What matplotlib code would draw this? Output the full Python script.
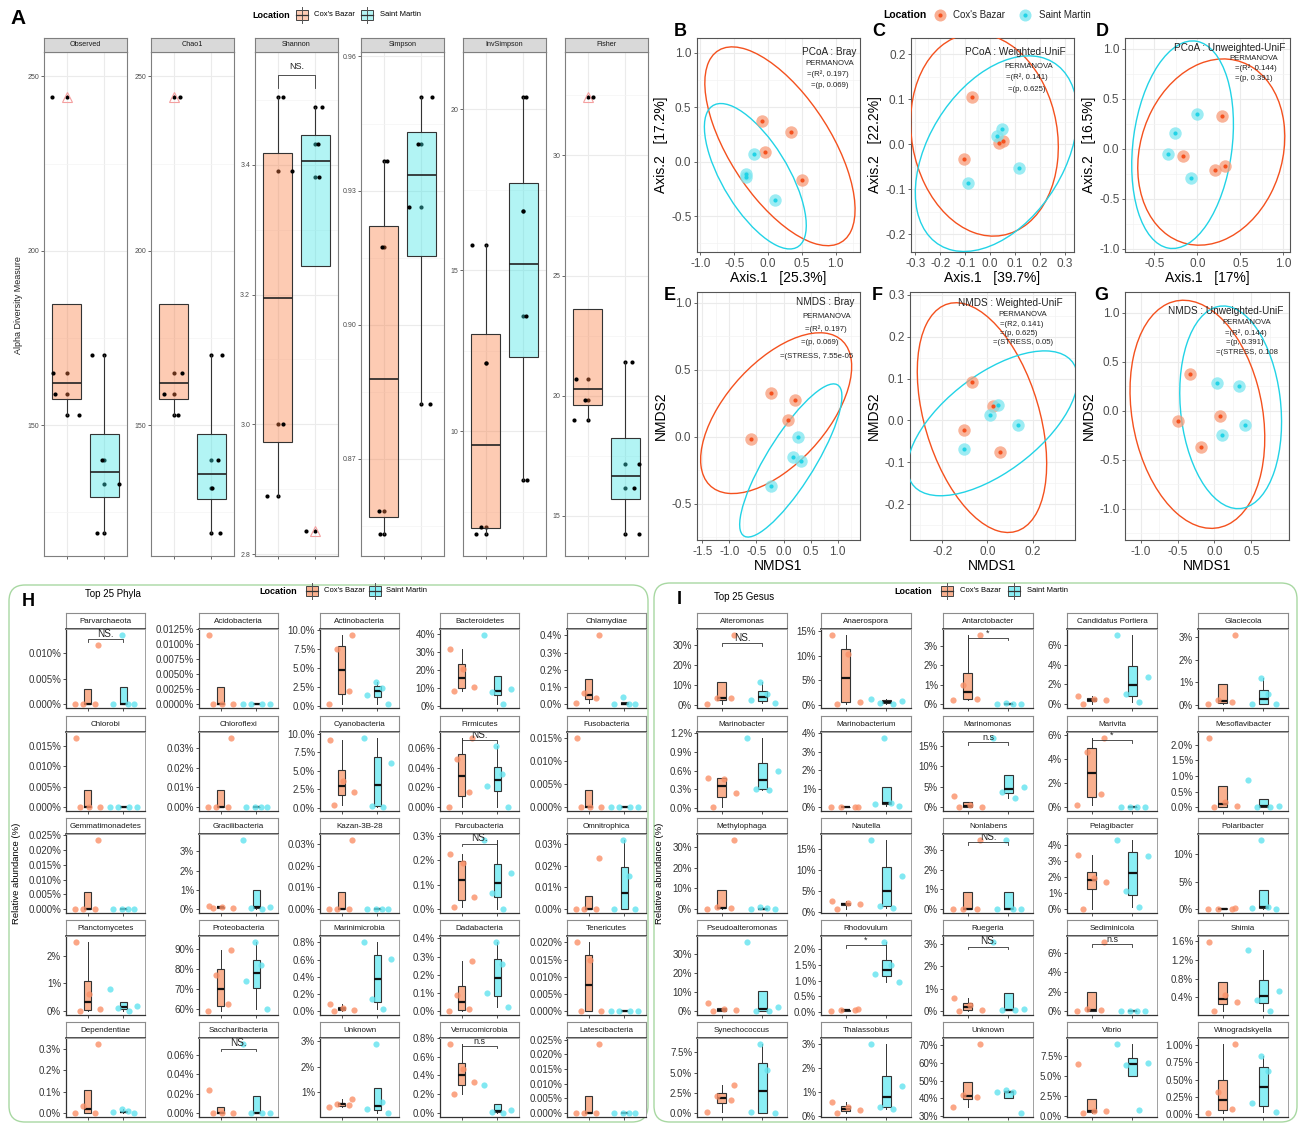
import numpy as np
import matplotlib
matplotlib.use("Agg")
import matplotlib.pyplot as plt
from matplotlib.patches import Ellipse, FancyBboxPatch, Rectangle
from matplotlib.ticker import AutoMinorLocator

plt.rcParams['font.family'] = ['Liberation Sans', 'DejaVu Sans']
plt.rcParams['axes.unicode_minus'] = False

W, H = 1302, 1124
NARROW = ['Liberation Sans Narrow', 'Liberation Sans', 'DejaVu Sans']

# ---------------- data: panel A (alpha diversity) ----------------
groups = ["Cox's Bazar", "Saint Martin"]
alpha_metrics = ["Observed", "Chao1", "Shannon", "Simpson", "InvSimpson", "Fisher"]
alpha_cox = [[153, 159, 165, 244],
             [153, 159, 165, 244],
             [2.89, 3.00, 3.39, 3.504],
             [0.8533, 0.8583, 0.9173, 0.9367],
             [6.82, 7.04, 12.11, 15.8],
             [18.98, 19.82, 20.69, 32.42]]
alpha_stm = [[119, 133, 140, 170],
             [119, 132, 140, 170],
             [2.835, 3.381, 3.432, 3.489],
             [0.8823, 0.9263, 0.9405, 0.9509],
             [8.5, 13.58, 16.83, 20.37],
             [14.25, 16.17, 17.15, 21.41]]
alpha_ticks = [["150", "200", "250"], ["150", "200", "250"],
               ["2.8", "3.0", "3.2", "3.4"], ["0.87", "0.90", "0.93", "0.96"],
               ["10", "15", "20"], ["15", "20", "25", "30"]]
alpha_ylim = [(112.5, 257), (112.5, 257), (2.797, 3.574),
              (0.8483, 0.961), (6.13, 21.78), (13.32, 34.31)]
shannon_sig = ("NS.", 3.538)

# jitter offsets of the second copy of each point (positions only)
alpha_jit_cox = [[0.33, -0.30, -0.36, -0.39], [0.11, -0.26, 0.22, 0.17],
                 [-0.28, 0.15, 0.39, 0.13], [-0.09, -0.13, -0.04, 0.10],
                 [-0.25, -0.13, 0.0, -0.37], [-0.37, -0.07, -0.30, 0.13]]
alpha_jit_stm = [[-0.19, 0.39, -0.06, -0.32], [0.24, 0.02, 0.17, 0.28],
                 [-0.25, 0.10, 0.06, 0.17], [0.22, -0.34, -0.08, 0.29],
                 [0.10, 0.06, 0.0, 0.06], [0.37, 0.24, 0.35, 0.18]]

# ---------------- data: panels B-G (ordinations) ----------------
ord_letters = ["B", "C", "D", "E", "F", "G"]
ord_titles = ["PCoA : Bray", "PCoA : Weighted-UniF", "PCoA : Unweighted-UniF",
              "NMDS : Bray", "NMDS : Weighted-UniF", "NMDS : Unweighted-UniF"]
ord_stats = [["PERMANOVA", "=(R², 0.197)", "=(p, 0.069)"],
             ["PERMANOVA", "=(R², 0.141)", "=(p, 0.625)"],
             ["PERMANOVA", "=(R², 0.144)", "=(p, 0.391)"],
             ["PERMANOVA", "=(R², 0.197)", "=(p, 0.069)", "=(STRESS, 7.55e-05"],
             ["PERMANOVA", "=(R2, 0.141)", "=(p, 0.625)", "=(STRESS, 0.05)"],
             ["PERMANOVA", "=(R², 0.144)", "=(p, 0.391)", "=(STRESS, 0.108"]]
ord_xlabel = ["Axis.1   [25.3%]", "Axis.1   [39.7%]", "Axis.1   [17%]", "NMDS1", "NMDS1", "NMDS1"]
ord_ylabel = ["Axis.2   [17.2%]", "Axis.2   [22.2%]", "Axis.2   [16.5%]", "NMDS2", "NMDS2", "NMDS2"]
ord_cox_x = [[-0.094, 0.3375, -0.044, 0.506], [-0.071, -0.107, 0.037, 0.050],
             [0.29, -0.167, 0.206, 0.32], [-0.234, 0.219, 0.078, -0.609],
             [-0.069, 0.024, -0.105, 0.054], [-0.333, 0.075, -0.489, -0.178]]
ord_cox_y = [[0.377, 0.273, 0.089, -0.172], [0.106, -0.032, 0.004, 0.007],
             [0.323, -0.07, -0.21, -0.177], [0.331, 0.274, 0.122, -0.02],
             [0.0916, 0.034, -0.023, -0.076], [0.374, -0.048, -0.102, -0.367]]
ord_stm_x = [[-0.2125, -0.319, -0.319, 0.10], [0.048, 0.026, 0.116, -0.090],
             [-0.005, -0.26, -0.34, -0.079], [0.273, 0.172, 0.32, -0.227],
             [0.047, 0.011, 0.136, -0.103], [0.034, 0.339, 0.408, 0.098]]
ord_stm_y = [[0.074, -0.113, -0.141, -0.356], [0.035, 0.019, -0.052, -0.085],
             [0.343, 0.16, -0.053, -0.29], [-0.005, -0.149, -0.182, -0.371],
             [0.037, 0.014, -0.010, -0.069], [0.286, 0.252, -0.15, -0.245]]
ord_xticks = [[-1.0, -0.5, 0.0, 0.5, 1.0], [-0.3, -0.2, -0.1, 0.0, 0.1, 0.2, 0.3],
              [-0.5, 0.0, 0.5, 1.0], [-1.5, -1.0, -0.5, 0.0, 0.5, 1.0],
              [-0.2, 0.0, 0.2], [-1.0, -0.5, 0.0, 0.5]]
ord_yticks = [[-0.5, 0.0, 0.5, 1.0], [-0.2, -0.1, 0.0, 0.1, 0.2],
              [-1.0, -0.5, 0.0, 0.5, 1.0], [-0.5, 0.0, 0.5, 1.0],
              [-0.2, -0.1, 0.0, 0.1, 0.2, 0.3], [-1.0, -0.5, 0.0, 0.5, 1.0]]
ord_xlim = [(-1.05, 1.36), (-0.318, 0.337), (-0.84, 1.077),
            (-1.6, 1.414), (-0.342, 0.387), (-1.213, 1.011)]
ord_ylim = [(-0.831, 1.138), (-0.239, 0.236), (-1.033, 1.107),
            (-0.771, 1.082), (-0.286, 0.307), (-1.32, 1.214)]

# ---------------- data: panel H (top 25 phyla, relative abundance %) ----------------
phyla = ["Parvarchaeota", "Acidobacteria", "Actinobacteria", "Bacteroidetes", "Chlamydiae",
         "Chlorobi", "Chloroflexi", "Cyanobacteria", "Firmicutes", "Fusobacteria",
         "Gemmatimonadetes", "Gracilibacteria", "Kazan-3B-28", "Parcubacteria", "Omnitrophica",
         "Planctomycetes", "Proteobacteria", "Marinimicrobia", "Dadabacteria", "Tenericutes",
         "Dependentiae", "Saccharibacteria", "Unknown", "Verrucomicrobia", "Latescibacteria"]
phyla_cox = [[0, 0, 0, 0.0117], [0, 0, 0, 0.01145], [0.26, 1.89, 7.41, 9.25],
             [8.4, 10.5, 20.6, 31.6], [0.006, 0.037, 0.065, 0.40],
             [0, 0, 0, 0.0169], [0, 0, 0, 0.0349], [0.32, 2.14, 3.65, 9.19],
             [0, 0.0153, 0.0486, 0.0698], [0, 0, 0, 0.015],
             [0, 0, 0, 0.0233], [0.06, 0.08, 0.12, 0.16], [0, 0, 0, 0.0317],
             [0.01, 0.048, 0.189, 0.227], [0, 0, 0, 0.0234],
             [0, 0.07, 0.61, 2.48], [58.8, 62.5, 76.8, 89.3], [0, 0.01, 0.031, 0.077],
             [0, 0.011, 0.089, 0.276], [0, 0, 0.015, 0.020],
             [0, 0, 0.034, 0.322], [0, 0, 0.0005, 0.0235], [0.40, 0.50, 0.55, 0.72],
             [0.198, 0.332, 0.47, 0.729], [0, 0, 0, 0.0234]]
phyla_stm = [[0, 0, 0, 0.0135], [0, 0, 0, 0], [0.22, 1.45, 2.35, 3.16],
             [0.9, 7.7, 9.3, 39.4], [0, 0, 0, 0.04],
             [0, 0, 0, 0], [0, 0, 0, 0], [0.1, 0.22, 5.99, 9.37],
             [0, 0.0217, 0.0336, 0.062], [0, 0, 0, 0],
             [0, 0, 0, 0], [0, 0.07, 0.13, 3.57], [0, 0, 0, 0],
             [0, 0.065, 0.15, 0.282], [0, 0, 0.0152, 0.0317],
             [0, 0.12, 0.18, 0.79], [60.0, 73.7, 81.8, 93.3], [0.023, 0.138, 0.604, 0.80],
             [0.024, 0.10, 0.259, 0.378], [0, 0, 0, 0],
             [0, 0.004, 0.009, 0.019], [0, 0, 0, 0.0705], [0.18, 0.33, 0.60, 2.88],
             [0, 0.01, 0.032, 0.30], [0, 0, 0, 0]]
phyla_ticks = [["0.000%", "0.005%", "0.010%"],
               ["0.0000%", "0.0025%", "0.0050%", "0.0075%", "0.0100%", "0.0125%"],
               ["0.0%", "2.5%", "5.0%", "7.5%", "10.0%"],
               ["0%", "10%", "20%", "30%", "40%"],
               ["0.0%", "0.1%", "0.2%", "0.3%", "0.4%"],
               ["0.000%", "0.005%", "0.010%", "0.015%"],
               ["0.00%", "0.01%", "0.02%", "0.03%"],
               ["0.0%", "2.5%", "5.0%", "7.5%", "10.0%"],
               ["0.00%", "0.02%", "0.04%", "0.06%"],
               ["0.000%", "0.005%", "0.010%", "0.015%"],
               ["0.000%", "0.005%", "0.010%", "0.015%", "0.020%", "0.025%"],
               ["0%", "1%", "2%", "3%"],
               ["0.00%", "0.01%", "0.02%", "0.03%"],
               ["0.0%", "0.1%", "0.2%", "0.3%"],
               ["0.00%", "0.01%", "0.02%", "0.03%"],
               ["0%", "1%", "2%"],
               ["60%", "70%", "80%", "90%"],
               ["0.0%", "0.2%", "0.4%", "0.6%", "0.8%"],
               ["0.0%", "0.1%", "0.2%", "0.3%", "0.4%"],
               ["0.000%", "0.005%", "0.010%", "0.015%", "0.020%"],
               ["0.0%", "0.1%", "0.2%", "0.3%"],
               ["0.00%", "0.02%", "0.04%", "0.06%"],
               ["1%", "2%", "3%"],
               ["0.0%", "0.2%", "0.4%", "0.6%", "0.8%"],
               ["0.000%", "0.005%", "0.010%", "0.015%", "0.020%", "0.025%"]]
phyla_sig = {"Parvarchaeota": ("NS.", 0.0127), "Firmicutes": ("NS.", 0.068),
             "Parcubacteria": ("NS.", 0.269), "Saccharibacteria": ("NS.", 0.066),
             "Verrucomicrobia": ("n.s", 0.711)}

# ---------------- data: panel I (top 25 genera, relative abundance %) ----------------
genera = ["Alteromonas", "Anaerospora", "Antarctobacter", "Candidatus Portiera", "Glaciecola",
          "Marinobacter", "Marinobacterium", "Marinomonas", "Marivita", "Mesoflavibacter",
          "Methylophaga", "Nautella", "Nonlabens", "Pelagibacter", "Polaribacter",
          "Pseudoalteromonas", "Rhodovulum", "Ruegeria", "Sediminicola", "Shimia",
          "Synechococcus", "Thalassobius", "Unknown", "Vibrio", "Winogradskyella"]
genera_cox = [[0.3, 3.2, 3.5, 35.0], [0.1, 0.6, 10.4, 14.2], [0.2, 0.27, 0.97, 3.54],
              [0, 0.38, 0.5, 0.86], [0.03, 0.1, 0.22, 3.09],
              [0.01, 0.23, 0.47, 0.48], [0, 0, 0, 0.03], [0, 0.1, 0.6, 2.8],
              [0.17, 1.08, 4.62, 5.75], [0, 0.02, 0.17, 2.21],
              [0, 0.5, 0.9, 33.2], [0.6, 1.8, 2.0, 2.6], [0, 0, 0, 3.49],
              [0.02, 1.7, 1.96, 3.4], [0, 0.05, 0.1, 0.2],
              [0, 0.3, 1.0, 4.3], [0.03, 0.05, 0.06, 0.10], [0, 0.06, 0.28, 0.59],
              [0, 0.07, 0.2, 7.1], [0.10, 0.30, 0.44, 1.58],
              [0.08, 1.65, 2.1, 3.46], [0.11, 0.25, 0.35, 0.55], [35.0, 40.8, 41.9, 70.6],
              [0.34, 0.6, 0.64, 6.5], [0.015, 0.077, 0.32, 1.01]]
genera_stm = [[0.8, 2.2, 5.2, 11.5], [0.2, 0.3, 0.8, 1.2], [0, 0, 0, 0.05],
              [0.2, 1.0, 2.8, 7.0], [0.03, 0.05, 0.47, 1.18],
              [0.28, 0.30, 0.59, 1.12], [0.07, 0.18, 0.23, 3.73], [2.3, 3.8, 4.8, 16.8],
              [0, 0, 0, 0.01], [0, 0, 0.04, 0.86],
              [0, 0.1, 0.3, 1.1], [0.8, 1.4, 8.6, 17.2], [0, 0, 0, 3.49],
              [0.17, 1.15, 3.35, 4.31], [0, 0.2, 0.4, 12.5],
              [0, 0, 1.9, 35.9], [0.97, 1.22, 1.49, 2.22], [0.03, 0.03, 0.07, 3.06],
              [0, 0, 0, 0], [0.10, 0.33, 0.54, 1.42],
              [0, 0.08, 5.35, 8.5], [0.28, 0.37, 1.22, 2.97], [31.5, 43.3, 43.5, 44.8],
              [0.68, 6.38, 6.64, 8.98], [0.03, 0.155, 0.62, 0.846]]
genera_ticks = [["0%", "10%", "20%", "30%"], ["0%", "5%", "10%", "15%"],
                ["0%", "1%", "2%", "3%"], ["0%", "2%", "4%", "6%"], ["0%", "1%", "2%", "3%"],
                ["0.0%", "0.3%", "0.6%", "0.9%", "1.2%"], ["0%", "1%", "2%", "3%", "4%"],
                ["0%", "5%", "10%", "15%"], ["0%", "2%", "4%", "6%"],
                ["0.0%", "0.5%", "1.0%", "1.5%", "2.0%"],
                ["0%", "10%", "20%", "30%"], ["0%", "5%", "10%", "15%"],
                ["0%", "1%", "2%", "3%"], ["0%", "1%", "2%", "3%", "4%"], ["0%", "5%", "10%"],
                ["0%", "10%", "20%", "30%"], ["0.0%", "0.5%", "1.0%", "1.5%", "2.0%"],
                ["0%", "1%", "2%", "3%"], ["0%", "2%", "4%", "6%"],
                ["0.4%", "0.8%", "1.2%", "1.6%"],
                ["0.0%", "2.5%", "5.0%", "7.5%"], ["0%", "1%", "2%", "3%"],
                ["30%", "40%", "50%", "60%", "70%"], ["0.0%", "2.5%", "5.0%", "7.5%"],
                ["0.00%", "0.25%", "0.50%", "0.75%", "1.00%"]]
genera_sig = {"Alteromonas": ("NS.", 31.0), "Antarctobacter": ("*", 3.4),
              "Marinomonas": ("n.s", 15.8), "Marivita": ("*", 5.6),
              "Nonlabens": ("NS.", 3.4), "Rhodovulum": ("*", 2.13),
              "Ruegeria": ("NS.", 2.87), "Sediminicola": ("n.s", 6.9)}

# ---------------- styles ----------------
A_FILL = ["#FA7D43", "#40E4E4"]
T_FILL = ["#F9B08F", "#8AEEF5"]
T_PT = ["#FA9068", "#62E3EF"]
O_LINE = ["#F4511E", "#22D3E6"]
O_HALO = ["#F89B78", "#7BE6F0"]
GRID = "#EBEBEB"

fig = plt.figure(figsize=(W / 100, H / 100), dpi=100)

# overlay in pixel coordinates for labels, legends and frames
ov = fig.add_axes([0, 0, 1, 1])
ov.set_xlim(0, W)
ov.set_ylim(H, 0)
ov.axis("off")


def px_axes(x0, y0, x1, y1):
    return fig.add_axes([x0 / W, 1 - y1 / H, (x1 - x0) / W, (y1 - y0) / H])


def box_key(x, y, color, w=12, h=10):
    ov.plot([x + w / 2, x + w / 2], [y - h / 2 - 3, y + h / 2 + 3], color="#555", lw=0.7)
    ov.add_patch(Rectangle((x, y - h / 2), w, h, fc=color, ec="#444", lw=0.7))
    ov.plot([x, x + w], [y, y], color="#333", lw=0.9)


def box_legend(xt, y, xk1, xl1, xk2, xl2, fills, tsize, lsize):
    ov.text(xt, y, "Location", fontsize=tsize, fontweight="bold", va="center")
    box_key(xk1, y, fills[0])
    ov.text(xl1, y, groups[0], fontsize=lsize, va="center")
    box_key(xk2, y, fills[1])
    ov.text(xl2, y, groups[1], fontsize=lsize, va="center")


# ================= panel A =================
A_LEFT = [44, 151, 255, 361, 463, 565]
A_W = 83
A_STRIP, A_TOP, A_BOT = 38, 52, 556

ov.text(10, 19, "A", fontsize=15, fontweight="bold", va="center")
box_legend(252, 15, 296, 314, 361, 380, ["#FDCBB4", "#B3F4F4"], 6.5, 5.5)
ov.text(19, 305, "Alpha Diversity Measure", rotation=90, fontsize=6.5, va="center", ha="center",
        color="#222")

for i, metric in enumerate(alpha_metrics):
    x0 = A_LEFT[i]
    ax = px_axes(x0, A_TOP, x0 + A_W, A_BOT)
    st = px_axes(x0, A_STRIP, x0 + A_W, A_TOP)
    st.set_facecolor("#D9D9D9")
    st.set_xticks([])
    st.set_yticks([])
    for s in st.spines.values():
        s.set_color("#7F7F7F")
        s.set_linewidth(0.8)
    st.text(0.5, 0.5, metric, ha="center", va="center", fontsize=5.2, color="#1A1A1A",
            transform=st.transAxes)

    data = [alpha_cox[i], alpha_stm[i]]
    jits = [alpha_jit_cox[i], alpha_jit_stm[i]]
    for g in range(2):
        vals = np.array(data[g])
        ax.scatter(np.full(len(vals), g + 1.0), vals, s=9, color="black", zorder=2, lw=0)
        ax.scatter(g + 1 + np.array(jits[g]), vals, s=9, color="black", zorder=4, lw=0)
    bp = ax.boxplot(data, positions=[1, 2], widths=0.75, patch_artist=True, whis=1.5,
                    showcaps=False, manage_ticks=False,
                    flierprops=dict(marker="^", markerfacecolor="none",
                                    markeredgecolor="#F4A0A0", markersize=6.5, mew=0.8),
                    medianprops=dict(color="#222", lw=1.2),
                    whiskerprops=dict(color="#333", lw=0.8),
                    boxprops=dict(lw=0.8))
    for g, patch in enumerate(bp["boxes"]):
        patch.set_facecolor(matplotlib.colors.to_rgba(A_FILL[g], 0.4))
        patch.set_edgecolor("#333")
        patch.set_zorder(3)
    for part in ("medians", "whiskers"):
        for ln in bp[part]:
            ln.set_zorder(3)

    ticks = alpha_ticks[i]
    ax.set_yticks([float(t) for t in ticks])
    ax.set_yticklabels(ticks)
    ax.set_ylim(*alpha_ylim[i])
    ax.set_xlim(0.4, 2.6)
    ax.set_xticks([1, 2])
    ax.set_xticklabels([])
    ax.yaxis.set_minor_locator(AutoMinorLocator(2))
    ax.grid(True, which="major", color=GRID, lw=0.8)
    ax.grid(True, which="minor", axis="y", color="#F4F4F4", lw=0.5)
    ax.set_axisbelow(True)
    ax.tick_params(axis="both", which="major", labelsize=5, colors="#4D4D4D", length=2.5, width=0.6,
                   pad=1)
    ax.tick_params(axis="both", which="minor", length=0)
    for s in ax.spines.values():
        s.set_color("#7F7F7F")
        s.set_linewidth(0.8)
    if metric == "Shannon":
        lab, yb = shannon_sig
        ax.plot([1, 1, 2, 2], [yb - 0.02, yb, yb, yb - 0.02], color="#333", lw=0.6)
        ax.text(1.5, yb + 0.006, lab, ha="center", va="bottom", fontsize=6.5, color="#222")

# ================= panels B-G =================
ord_boxes = [(697, 38, 860, 252), (911, 38, 1074, 252), (1125, 38, 1290, 252),
             (697, 292, 860, 540), (910, 292, 1075, 540), (1125, 292, 1289, 540)]
letter_pos = [(674, 32), (872, 32), (1096, 32), (664, 295), (872, 295), (1094, 295)]
title_pos = [(0.98, 0.935, "right"), (0.64, 0.935, "center"), (0.975, 0.954, "right"),
             (0.965, 0.958, "right"), (0.605, 0.956, "center"), (0.613, 0.922, "center")]
stat_pos = [[(0.816, 0.882), (0.80, 0.83), (0.816, 0.78)],
            [(0.72, 0.865), (0.71, 0.815), (0.71, 0.76)],
            [(0.78, 0.904), (0.795, 0.86), (0.78, 0.813)],
            [(0.795, 0.902), (0.79, 0.85), (0.75, 0.795), (0.735, 0.741)],
            [(0.68, 0.909), (0.68, 0.869), (0.66, 0.832), (0.685, 0.797)],
            [(0.745, 0.875), (0.74, 0.836), (0.73, 0.797), (0.745, 0.757)]]
ELL_R = 3.8   # confidence ellipse scale for n = 4 samples


def conf_ellipse(ax, xs, ys, color):
    pts = np.column_stack([xs, ys])
    mu = pts.mean(axis=0)
    cov = np.cov(pts, rowvar=False)
    vals, vecs = np.linalg.eigh(cov)
    ang = np.degrees(np.arctan2(vecs[1, 1], vecs[0, 1]))
    ax.add_patch(Ellipse(mu, 2 * ELL_R * np.sqrt(vals[1]), 2 * ELL_R * np.sqrt(vals[0]),
                         angle=ang, fill=False, ec=color, lw=1.0, zorder=3))


# legend for ordination panels
ov.text(883, 15, "Location", fontsize=7.5, fontweight="bold", va="center")
for xk, xl, g in [(940, 953, 0), (1025, 1039, 1)]:
    ov.scatter([xk], [15], s=75, color=O_HALO[g], alpha=0.8, lw=0)
    ov.scatter([xk], [15], s=9, color=O_LINE[g], lw=0)
    ov.text(xl, 15, groups[g], fontsize=7, va="center", color="#222")

for k in range(6):
    x0, y0, x1, y1 = ord_boxes[k]
    ax = px_axes(x0, y0, x1, y1)
    conf_ellipse(ax, ord_cox_x[k], ord_cox_y[k], O_LINE[0])
    conf_ellipse(ax, ord_stm_x[k], ord_stm_y[k], O_LINE[1])
    for g, (xs, ys) in enumerate([(ord_cox_x[k], ord_cox_y[k]), (ord_stm_x[k], ord_stm_y[k])]):
        ax.scatter(xs, ys, s=80, color=O_HALO[g], alpha=0.75, lw=0, zorder=4)
        ax.scatter(xs, ys, s=9, color=O_LINE[g], lw=0, zorder=5)
    ax.set_xlim(*ord_xlim[k])
    ax.set_ylim(*ord_ylim[k])
    ax.set_xticks(ord_xticks[k])
    ax.set_yticks(ord_yticks[k])
    ax.set_xticklabels(["%.1f" % v for v in ord_xticks[k]], family=NARROW)
    ax.set_yticklabels(["%.1f" % v for v in ord_yticks[k]], family=NARROW)
    ax.xaxis.set_minor_locator(AutoMinorLocator(2))
    ax.yaxis.set_minor_locator(AutoMinorLocator(2))
    ax.grid(True, which="major", color=GRID, lw=0.8)
    ax.grid(True, which="minor", color="#F3F3F3", lw=0.5)
    ax.set_axisbelow(True)
    ax.tick_params(which="major", labelsize=8.5, colors="#4D4D4D", length=2.5, width=0.6, pad=1.5)
    ax.tick_params(which="minor", length=0)
    for s in ax.spines.values():
        s.set_color("#555555")
        s.set_linewidth(0.8)
    ax.set_xlabel(ord_xlabel[k], fontsize=10, family=NARROW, labelpad=1)
    ax.set_ylabel(ord_ylabel[k], fontsize=10, family=NARROW, labelpad=2)
    tx, ty, tha = title_pos[k]
    ax.text(tx, ty, ord_titles[k], transform=ax.transAxes, ha=tha, va="center",
            fontsize=7.2, family=NARROW, color="#222", zorder=6)
    for line, (sx, sy) in zip(ord_stats[k], stat_pos[k]):
        ax.text(sx, sy, line, transform=ax.transAxes, ha="center", va="center",
                fontsize=5.6, family=NARROW, color="#222", zorder=6, clip_on=False)
    lx, ly = letter_pos[k]
    ov.text(lx, ly, ord_letters[k], fontsize=13, fontweight="bold", va="center")

# ================= panels H and I =================
ROW_TOP = [613, 716, 818, 920, 1022]
STRIP_H = 15.5
PANEL_H = 79
JIT = [[-0.35, 0.22, -0.12, 0.30], [0.30, -0.28, 0.12, -0.05],
       [-0.20, 0.35, 0.05, -0.32], [0.15, -0.15, 0.38, -0.38]]


def taxa_facet(x0, y0, w, name, cox, stm, labels, k, sig):
    st = px_axes(x0, y0, x0 + w, y0 + STRIP_H)
    ax = px_axes(x0, y0 + STRIP_H, x0 + w, y0 + STRIP_H + PANEL_H)
    st.set_facecolor("white")
    st.set_xticks([])
    st.set_yticks([])
    for side, s in st.spines.items():
        s.set_color("#333" if side == "bottom" else "#8C8C8C")
        s.set_linewidth(1.2 if side == "bottom" else 0.8)
    st.text(0.5, 0.45, name, ha="center", va="center", fontsize=5.8, color="#1A1A1A",
            transform=st.transAxes)

    data = [cox, stm]
    bp = ax.boxplot(data, positions=[1, 2], widths=0.22, patch_artist=True, whis=1.5,
                    showcaps=False, showfliers=False, manage_ticks=False,
                    medianprops=dict(color="#111", lw=1.6),
                    whiskerprops=dict(color="#333", lw=0.7),
                    boxprops=dict(lw=0.8))
    for g, patch in enumerate(bp["boxes"]):
        patch.set_facecolor(T_FILL[g])
        patch.set_edgecolor("#333")
    for g in range(2):
        offs = np.array(JIT[(2 * k + g) % 4])
        ax.scatter(g + 1 + offs, data[g], s=20, color=T_PT[g], alpha=0.8, lw=0, zorder=4)

    allv = np.array(cox + stm, dtype=float)
    lo, hi = allv.min(), allv.max()
    r = hi - lo if hi > lo else 1.0
    ax.set_ylim(lo - 0.05 * r, hi + 0.10 * r)
    ax.set_xlim(0.4, 2.6)
    ax.set_yticks([float(t.rstrip("%")) for t in labels])
    ax.set_yticklabels(labels)
    ax.set_xticks([1, 2])
    ax.set_xticklabels([])
    ax.tick_params(labelsize=7, colors="#333", length=2.5, width=0.6, pad=1)
    ax.tick_params(axis="y", labelcolor="#333")
    for side, s in ax.spines.items():
        if side in ("left", "bottom"):
            s.set_color("#333")
            s.set_linewidth(0.9)
        else:
            s.set_color("#A0A0A0")
            s.set_linewidth(0.7)
    if sig is not None:
        lab, yb = sig
        d = 0.035 * r
        ax.plot([1, 1, 2, 2], [yb - d, yb, yb, yb - d], color="#333", lw=0.6, zorder=5)
        ax.text(1.5, yb + 0.005 * r, lab, ha="center", va="bottom",
                fontsize=7.2 if lab == "NS." else 6.5, color="#222", zorder=5, clip_on=True)


def taxa_panel(cols, w, names, cox, stm, ticks, sigs):
    for k, name in enumerate(names):
        row, col = divmod(k, 5)
        taxa_facet(cols[col], ROW_TOP[row], w, name, cox[k], stm[k], ticks[k], k,
                   sigs.get(name))


# frames
ov.add_patch(FancyBboxPatch((9, 585), 639, 537, boxstyle="round,pad=0,rounding_size=16",
                            fc="none", ec="#A8D8A2", lw=1.0))
ov.add_patch(FancyBboxPatch((654, 583), 643, 539, boxstyle="round,pad=0,rounding_size=16",
                            fc="none", ec="#A8D8A2", lw=1.0))

ov.text(22, 601, "H", fontsize=13, fontweight="bold", va="center")
ov.text(85, 594, "Top 25 Phyla", fontsize=7, va="center")
box_legend(259, 591, 306, 324, 369, 386, T_FILL, 6.5, 5.5)
ov.text(17, 873, "Relative abundance (%)", rotation=90, fontsize=6.8, va="center", ha="center")

ov.text(677, 599, "I", fontsize=13, fontweight="bold", va="center")
ov.text(714, 597, "Top 25 Gesus", fontsize=7, va="center")
box_legend(894, 591, 941, 960, 1008, 1027, T_FILL, 6.5, 5.5)
ov.text(659, 873, "Relative abundance (%)", rotation=90, fontsize=6.8, va="center", ha="center")

taxa_panel([66, 199, 320, 440, 567], 79, phyla, phyla_cox, phyla_stm, phyla_ticks, phyla_sig)
taxa_panel([697, 821, 943, 1067, 1198], 90, genera, genera_cox, genera_stm, genera_ticks, genera_sig)

fig.savefig("out.png", dpi=100)
